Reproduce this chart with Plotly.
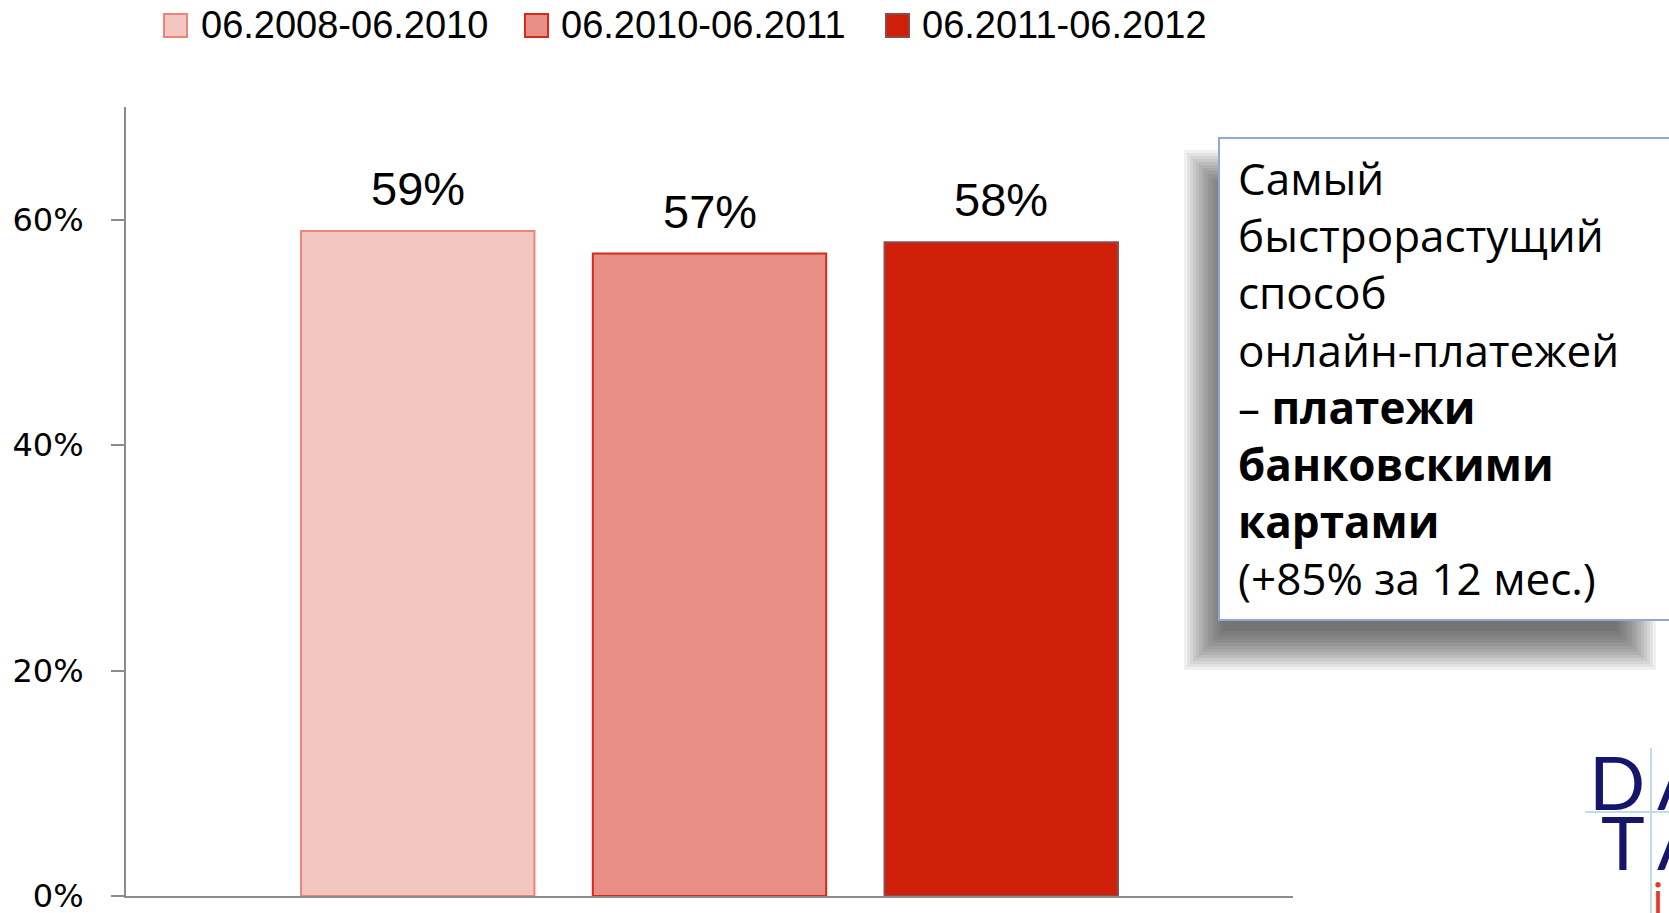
import plotly.graph_objects as go

# Data
periods = ["06.2008-06.2010", "06.2010-06.2011", "06.2011-06.2012"]
shares = [59, 57, 58]  # percent
positions = [1, 2, 3]

fills = ["#F4C6C2", "#E88E84", "#D01F08"]
edges = ["#E9857A", "#D42A1A", "#8E4A4A"]

callout_lines = [
    "Самый",
    "быстрорастущий",
    "способ",
    "онлайн-платежей",
    "– <b>платежи</b>",
    "<b>банковскими</b>",
    "<b>картами</b>",
    "(+85% за 12 мес.)",
]

y_ticks = [0, 20, 40, 60]
y_tick_text = ["0%", "20%", "40%", "60%"]

# Page geometry (pixels)
FIG_W, FIG_H = 1669, 913
L, R, T, B = 126, 1293, 107, 896
PW, PH = R - L, B - T


def px(x):
    return (x - L) / PW


def py(y):
    return (B - y) / PH


fig = go.Figure()

for name, val, pos, fc, ec in zip(periods, shares, positions, fills, edges):
    fig.add_trace(go.Bar(
        x=[pos], y=[val], name=name, width=0.8,
        marker=dict(color=fc, line=dict(color=ec, width=2)),
        showlegend=False,
        hoverinfo="skip",
    ))

annotations = []
shapes = []

# value labels above bars
for val, pos in zip(shares, positions):
    annotations.append(dict(
        x=pos, y=val, xref="x", yref="y", text=f"{val}%",
        showarrow=False, yanchor="bottom", yshift=14,
        font=dict(family="Liberation Sans, Arial, sans-serif", size=47, color="#000000"),
    ))

# legend row across the top
legend_sq = [164, 525, 886]
legend_txt = [199, 559, 920]
for name, fc, ec, sx, tx in zip(periods, fills, edges, legend_sq, legend_txt):
    shapes.append(dict(
        type="rect", xref="paper", yref="paper",
        x0=px(sx), x1=px(sx + 23), y0=py(37), y1=py(14),
        fillcolor=fc, line=dict(color=ec, width=2), layer="above",
    ))
    annotations.append(dict(
        x=px(tx), y=py(25), xref="paper", yref="paper", text=name,
        showarrow=False, xanchor="left", yanchor="middle",
        font=dict(family="Liberation Sans, Arial, sans-serif", size=38, color="#000000"),
    ))

# soft drop shadow behind the callout box
for i in range(14):
    g = i * 3
    shapes.append(dict(
        type="rect", xref="paper", yref="paper",
        x0=px(1184 + g), x1=px(1656 - g), y0=py(670 - g), y1=py(150 + g),
        fillcolor="rgba(40,40,40,0.07)", line=dict(width=0), layer="above",
    ))

# callout box
shapes.append(dict(
    type="rect", xref="paper", yref="paper",
    x0=px(1219), x1=px(1700), y0=py(620), y1=py(138),
    fillcolor="#FFFFFF", line=dict(color="#8FA9D4", width=2), layer="above",
))
annotations.append(dict(
    x=px(1236), y=py(378), xref="paper", yref="paper",
    text="<br>".join(callout_lines), align="left",
    showarrow=False, xanchor="left", yanchor="middle",
    font=dict(family="Open Sans, Noto Sans, sans-serif", size=44, color="#000000"),
))

# logo corner
shapes.append(dict(type="line", xref="paper", yref="paper",
                   x0=px(1651), x1=px(1651), y0=py(748), y1=py(913),
                   line=dict(color="#BFDCEA", width=2), layer="above"))
shapes.append(dict(type="line", xref="paper", yref="paper",
                   x0=px(1585), x1=px(1669), y0=py(812), y1=py(812),
                   line=dict(color="#BFDCEA", width=2), layer="above"))
logo_font = dict(family="Lato, DejaVu Sans, sans-serif", size=74, color="#15156B", weight=400)
for left, right, y in [("D", "A", 781), ("T", "A", 841)]:
    annotations.append(dict(x=px(1647), y=py(y), xref="paper", yref="paper", text=left,
                            showarrow=False, xanchor="right", yanchor="middle",
                            font=logo_font))
    annotations.append(dict(x=px(1655), y=py(y), xref="paper", yref="paper", text=right,
                            showarrow=False, xanchor="left", yanchor="middle",
                            font=logo_font))
annotations.append(dict(x=px(1658), y=py(897), xref="paper", yref="paper", text="i",
                        showarrow=False, xanchor="center", yanchor="middle",
                        font=dict(family="Lato, DejaVu Sans, sans-serif", size=42,
                                  color="#E03A2A")))

fig.update_layout(
    width=FIG_W, height=FIG_H,
    margin=dict(l=L, r=FIG_W - R, t=T, b=FIG_H - B, pad=0, autoexpand=False),
    paper_bgcolor="#FFFFFF", plot_bgcolor="#FFFFFF",
    showlegend=False,
    barmode="overlay",
    xaxis=dict(range=[0, 4], showticklabels=False, ticks="", showgrid=False,
               zeroline=False, showline=True, linecolor="#8C8C8C", linewidth=2,
               automargin=False, fixedrange=True),
    yaxis=dict(range=[0, 70], tickvals=y_ticks, ticktext=y_tick_text,
               ticks="outside", ticklen=13, tickwidth=2, tickcolor="#8C8C8C",
               showgrid=False, zeroline=False, showline=True, linecolor="#8C8C8C",
               linewidth=2, ticklabelstandoff=21, ticklabeloverflow="allow",
               automargin=False,
               tickfont=dict(family="DejaVu Sans, Verdana, sans-serif", size=32,
                             color="#000000"),
               fixedrange=True),
    annotations=annotations,
    shapes=shapes,
)

fig.write_html("out.html", config={"displayModeBar": False})
